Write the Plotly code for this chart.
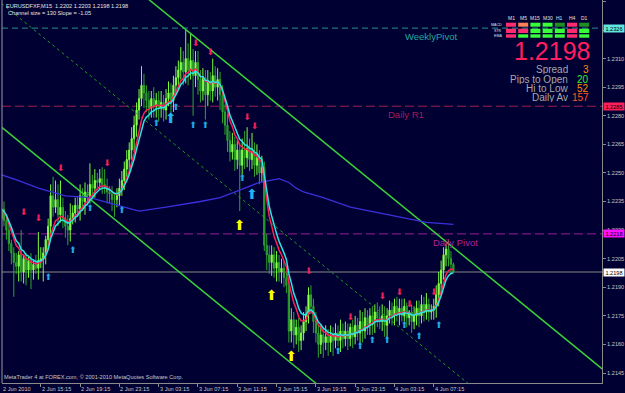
import pandas as pd
import plotly.graph_objects as go

# ---------------- data ----------------
symbol_line = "EURUSDFXF,M15  1.2202 1.2203 1.2198 1.2198"
channel_line = "Channel size = 130 Slope = -1.05"
copyright_line = "MetaTrader 4 at FOREX.com, © 2001-2010 MetaQuotes Software Corp."

bar_start = "2010-06-02 11:15"
first_open = 1.2226
close = [
    1.2231, 1.2225, 1.2220, 1.2213, 1.2208, 1.2203, 1.2201, 1.2207, 1.2198, 1.2205,
    1.2199, 1.2204, 1.2199, 1.2202, 1.2200, 1.2204, 1.2205, 1.2208, 1.2215, 1.2222,
    1.2238, 1.2232, 1.2236, 1.2228, 1.2232, 1.2226, 1.2222, 1.2220, 1.2226, 1.2229,
    1.2233, 1.2231, 1.2238, 1.2235, 1.2240, 1.2238, 1.2244, 1.2242, 1.2246, 1.2245,
    1.2247, 1.2244, 1.2243, 1.2240, 1.2239, 1.2236, 1.2236, 1.2238, 1.2242, 1.2246,
    1.2252, 1.2257, 1.2262, 1.2268, 1.2275, 1.2283, 1.2289, 1.2296, 1.2292, 1.2288,
    1.2284, 1.2289, 1.2285, 1.2288, 1.2284, 1.2287, 1.2283, 1.2289, 1.2292, 1.2288,
    1.2296, 1.2300, 1.2304, 1.2308, 1.2303, 1.2310, 1.2304, 1.2309, 1.2301, 1.2308,
    1.2299, 1.2293, 1.2300, 1.2291, 1.2298, 1.2293, 1.2301, 1.2295, 1.2299, 1.2291,
    1.2282, 1.2275, 1.2267, 1.2261, 1.2265, 1.2257, 1.2262, 1.2254, 1.2262, 1.2258,
    1.2263, 1.2257, 1.2261, 1.2254, 1.2258, 1.2250, 1.2253, 1.2212, 1.2207, 1.2203,
    1.2207, 1.2200, 1.2203, 1.2198, 1.2200, 1.2195, 1.2191, 1.2167, 1.2173, 1.2165,
    1.2169, 1.2162, 1.2166, 1.2172, 1.2176, 1.2186, 1.2180, 1.2172, 1.2166, 1.2160,
    1.2165, 1.2161, 1.2164, 1.2161, 1.2165, 1.2162, 1.2166, 1.2162, 1.2167, 1.2163,
    1.2167, 1.2163, 1.2169, 1.2164, 1.2170, 1.2166, 1.2172, 1.2167, 1.2174, 1.2170,
    1.2175, 1.2172, 1.2177, 1.2174, 1.2172, 1.2175, 1.2170, 1.2175, 1.2178, 1.2175,
    1.2180, 1.2176, 1.2179, 1.2175, 1.2180, 1.2174, 1.2177, 1.2172, 1.2175, 1.2179,
    1.2175, 1.2181, 1.2177, 1.2181, 1.2177, 1.2178, 1.2180, 1.2186, 1.2192, 1.2199,
    1.2207, 1.2210, 1.2205, 1.2202, 1.2198]
wick_up = [
    3, 4, 2, 3, 2, 3, 5, 2, 13, 2,
    3, 2, 4, 2, 5, 15, 6, 3, 2, 4,
    6, 10, 10, 8, 14, 5, 4, 6, 8, 4,
    4, 5, 6, 4, 5, 4, 11, 5, 6, 4,
    5, 6, 8, 4, 3, 4, 3, 4, 5, 5,
    4, 5, 4, 6, 5, 4, 5, 10, 6, 4,
    5, 4, 6, 4, 5, 6, 4, 5, 6, 5,
    5, 6, 5, 8, 6, 15, 8, 14, 6, 6,
    6, 5, 5, 4, 6, 5, 9, 5, 6, 4,
    5, 4, 6, 5, 6, 4, 5, 4, 6, 10,
    11, 5, 10, 5, 7, 4, 6, 3, 6, 5,
    5, 4, 6, 4, 5, 4, 3, 4, 6, 4,
    4, 5, 4, 5, 4, 4, 5, 4, 5, 4,
    5, 4, 6, 4, 5, 4, 5, 4, 6, 4,
    5, 4, 2, 4, 5, 4, 6, 5, 5, 4,
    4, 5, 4, 5, 6, 6, 5, 4, 5, 4,
    4, 5, 5, 5, 4, 2, 1, 4, 5, 4,
    4, 5, 4, 6, 3, 3, 4, 5, 6, 5,
    4, 3, 5, 4, 1]
wick_dn = [
    4, 3, 5, 4, 6, 18, 4, 8, 5, 6,
    8, 4, 10, 5, 3, 6, 4, 12, 6, 4,
    4, 5, 3, 6, 4, 5, 6, 8, 6, 3,
    5, 4, 6, 5, 7, 5, 4, 6, 5, 4,
    4, 5, 4, 6, 5, 6, 9, 4, 5, 4,
    5, 4, 6, 5, 7, 6, 5, 4, 8, 6,
    6, 5, 6, 6, 7, 5, 6, 5, 4, 10,
    6, 5, 6, 5, 7, 6, 8, 5, 21, 6,
    8, 6, 5, 13, 6, 5, 6, 5, 7, 8,
    6, 5, 6, 5, 4, 6, 5, 24, 5, 6,
    5, 6, 5, 6, 5, 6, 5, 3, 8, 6,
    7, 5, 7, 5, 6, 5, 4, 6, 6, 7,
    5, 6, 5, 4, 5, 5, 4, 6, 5, 7,
    5, 8, 4, 7, 5, 8, 4, 3, 6, 5,
    4, 6, 4, 6, 4, 4, 6, 6, 4, 5,
    5, 7, 6, 5, 4, 5, 6, 7, 4, 5,
    5, 4, 6, 3, 3, 5, 4, 6, 4, 5,
    6, 4, 5, 4, 5, 4, 5, 6, 6, 5,
    5, 6, 4, 5, 0]

slow_ma_bar = [0, 7, 15, 20, 26, 36, 44, 53, 56, 67, 81, 89, 97, 105, 109, 113,
               117, 120, 123, 131, 142, 150, 158, 166, 173, 184]
slow_ma_val = [1.2249, 1.2246, 1.2242, 1.2240, 1.2238, 1.2237, 1.2234, 1.2231, 1.2230,
               1.2232, 1.2235, 1.2237, 1.2241, 1.2245, 1.2246, 1.2247, 1.2245, 1.2242,
               1.2240, 1.2237, 1.2232, 1.2230, 1.2228, 1.2226, 1.2224, 1.2223]

channel_mid_start = 1.2339
channel_slope_pips = -1.05
channel_half_pips = 65

level_names = ["WeeklyPivot", "Daily R1", "Daily Pivot"]
level_values = [1.2326, 1.2285, 1.2218]
level_label_bar = [163.5, 156.5, 175.0]
bid = 1.2198

fractal_dn_bar = [9, 15, 24, 43, 79, 85, 100, 103, 125, 142, 155, 162, 166, 176]
fractal_dn_val = [1.2229, 1.2226, 1.2252, 1.2255, 1.2318, 1.2313, 1.2279, 1.2274,
                  1.2198, 1.2174, 1.2185, 1.2187, 1.2181, 1.2187]
fractal_up_bar = [19, 29, 36, 49, 63, 71, 78, 83, 98, 137, 146, 151, 157, 164, 170, 178]
fractal_up_val = [1.2195, 1.2209, 1.2231, 1.2230, 1.2276, 1.2284, 1.2275, 1.2275,
                  1.2247, 1.2156, 1.2159, 1.2162, 1.2162, 1.2170, 1.2164, 1.2170]
big_up_bar = [69, 102]
big_up_val = [1.2278, 1.2238]
yellow_up_bar = [97, 110, 118]
yellow_up_val = [1.2222, 1.2185, 1.2153]

time_tick_bar = [0, 16, 32, 48, 64, 80, 96, 112, 128, 144, 160, 176]
time_tick_text = ["2 Jun 2010", "2 Jun 15:15", "2 Jun 19:15", "2 Jun 23:15",
                  "3 Jun 03:15", "3 Jun 07:15", "3 Jun 11:15", "3 Jun 15:15",
                  "3 Jun 19:15", "3 Jun 23:15", "4 Jun 03:15", "4 Jun 07:15"]
price_ticks = [1.2145, 1.2160, 1.2175, 1.2190, 1.2205, 1.2220, 1.2235, 1.2250,
               1.2265, 1.2280, 1.2295, 1.2310, 1.2325, 1.2340]

tf_names = ["M1", "M5", "M15", "M30", "H1", "H4", "D1"]
sig_names = ["MACD", "STR", "EMA"]
sig_macd = ["dn", "wdn", "up", "up", "wup", "dn", "wup"]
sig_str = ["dn", "dn", "up", "up", "up", "dn", "up"]
sig_ema = ["dn", "up", "up", "up", "up", "dn", "up"]
panel_price = "1.2198"
stat_names = ["Spread", "Pips to Open", "Hi to Low", "Daily Av"]
stat_values = ["3", "20", "52", "157"]

# ---------------- styling / geometry ----------------
BG = "#000032"
FONT = "Liberation Sans"
W, H = 625, 393
ML, MR, MT, MB = 2, 23, 0, 10
PW, PH = W - ML - MR, H - MT - MB
X_LO, X_HI = 0.2, 244.5


def fx(px):
    return (px - ML) / PW


def fy(py):
    return 1 - (py - MT) / PH


t0 = pd.Timestamp(bar_start)


def bt(i):
    return t0 + pd.Timedelta(minutes=15 * i)


n = len(close)
times = [bt(i) for i in range(n)]
opens = [first_open] + close[:-1]
high = [max(o, c) + u / 1e4 for o, c, u in zip(opens, close, wick_up)]
low = [min(o, c) - d / 1e4 for o, c, d in zip(opens, close, wick_dn)]


def ema(vals, span):
    a = 2 / (span + 1)
    out = [vals[0]]
    for v in vals[1:]:
        out.append(out[-1] + a * (v - out[-1]))
    return out


fast_red = ema(close, 7)
fast_cyan = ema(close, 9)

fig = go.Figure()

# channel
ch_bars = [-2, 250]
mid = [channel_mid_start + channel_slope_pips * b / 1e4 for b in ch_bars]
fig.add_trace(go.Scatter(x=[bt(b) for b in ch_bars], y=mid, mode="lines",
                         line=dict(color="#1f9a1f", width=1, dash="dot"), hoverinfo="skip"))
for sgn in (1, -1):
    fig.add_trace(go.Scatter(x=[bt(b) for b in ch_bars],
                             y=[m + sgn * channel_half_pips / 1e4 for m in mid], mode="lines",
                             line=dict(color="#3ad23a", width=1.5), hoverinfo="skip"))

# slow MA
fig.add_trace(go.Scatter(x=[bt(b) for b in slow_ma_bar], y=slow_ma_val, mode="lines",
                         line=dict(color="#3b30dc", width=1.3), hoverinfo="skip"))

# candles
fig.add_trace(go.Candlestick(
    x=times, open=opens, high=high, low=low, close=close,
    increasing=dict(line=dict(color="#7CFC3C", width=1), fillcolor="#B8FF88"),
    decreasing=dict(line=dict(color="#2FA52F", width=1), fillcolor="#1E7F1E"),
    whiskerwidth=0, hoverinfo="skip"))

# fast MAs
fig.add_trace(go.Scatter(x=times, y=fast_red, mode="lines",
                         line=dict(color="#FF1F55", width=1.5), hoverinfo="skip"))
fig.add_trace(go.Scatter(x=times, y=fast_cyan, mode="lines",
                         line=dict(color="#28E6E6", width=1.5), hoverinfo="skip"))


# arrows
def arrows(bars, vals, glyph, size, color):
    fig.add_trace(go.Scatter(x=[bt(b) for b in bars], y=vals, mode="text",
                             text=[glyph] * len(bars), textposition="middle center",
                             textfont=dict(size=size, color=color, family="DejaVu Sans"),
                             hoverinfo="skip"))


arrows(fractal_dn_bar, fractal_dn_val, "⬇", 9, "#F0205A")
arrows(fractal_up_bar, fractal_up_val, "⬆", 9, "#20A8E0")
arrows(big_up_bar, big_up_val, "⬆", 14, "#22B4F0")
arrows(yellow_up_bar, yellow_up_val, "⬆", 14, "#FFFF00")

shapes = []
annotations = []

# levels
level_line_colors = ["#2A9090", "#A01E50", "#9A1E9A"]
level_text_colors = ["#22A8A0", "#A8185A", "#B0209E"]
level_box_colors = ["#60E8E0", "#FF1E5A", "#FF10FF"]
level_dash = ["6px,4px", "9px,4px", "9px,4px"]
for name, val, lb, lc, tc, bc, ds in zip(level_names, level_values, level_label_bar,
                                         level_line_colors, level_text_colors,
                                         level_box_colors, level_dash):
    shapes.append(dict(type="line", xref="paper", x0=0, x1=1, yref="y", y0=val, y1=val,
                       line=dict(color=lc, width=1, dash=ds), layer="below"))
    annotations.append(dict(x=bt(lb), y=val, xref="x", yref="y", text=name,
                            showarrow=False, xanchor="left", yanchor="top", yshift=-1,
                            font=dict(family=FONT, size=9.5, color=tc)))
    annotations.append(dict(x=1, y=val, xref="paper", yref="y", text=f"{val:.4f}",
                            showarrow=False, xanchor="left", yanchor="middle", xshift=1,
                            bgcolor=bc, width=20, height=7, borderpad=0,
                            font=dict(family=FONT, size=5.6, color="#000000")))

shapes.append(dict(type="line", xref="paper", x0=0, x1=1, yref="y", y0=bid, y1=bid,
                   line=dict(color="#8a8a8a", width=1), layer="below"))
annotations.append(dict(x=1, y=bid, xref="paper", yref="y", text=f"{bid:.4f}",
                        showarrow=False, xanchor="left", yanchor="middle", xshift=1,
                        bgcolor="#FFFFFF", width=20, height=7, borderpad=0,
                        font=dict(family=FONT, size=5.6, color="#000000")))

# price tick labels hidden behind a level box stay blank
tick_text = []
for v in price_ticks:
    near = any(abs(v - h) < 0.00012 for h in level_values)
    tick_text.append("" if near else f"{v:.4f}")

# left frame
shapes.append(dict(type="line", xref="paper", yref="paper", x0=0, x1=0, y0=0, y1=1,
                   line=dict(color="#9a9a9a", width=1)))

# time labels
for b, txt in zip(time_tick_bar, time_tick_text):
    annotations.append(dict(x=bt(max(b, X_LO + 0.05)), y=0, xref="x", yref="paper", text=txt,
                            showarrow=False, xanchor="left", yanchor="top", xshift=-1,
                            yshift=-1, font=dict(family=FONT, size=5.6, color="#C8C8C8")))

# header texts
annotations.append(dict(x=fx(4), y=fy(6), xref="paper", yref="paper", text=symbol_line,
                        showarrow=False, xanchor="left", yanchor="middle",
                        font=dict(family=FONT, size=5.6, color="#E6E6E6")))
annotations.append(dict(x=fx(6), y=fy(13), xref="paper", yref="paper", text=channel_line,
                        showarrow=False, xanchor="left", yanchor="middle",
                        font=dict(family=FONT, size=5.6, color="#E6E6E6")))
annotations.append(dict(x=fx(2), y=fy(377), xref="paper", yref="paper", text=copyright_line,
                        showarrow=False, xanchor="left", yanchor="middle",
                        font=dict(family=FONT, size=5.6, color="#C8C8C8")))

# signal panel
sig_color = {"dn": "#FF2D6F", "wdn": "#FF7F55", "up": "#38FF38", "wup": "#1F8F1F"}
row_top = [22.7, 28.7, 34.3]
row_bot = [26.7, 33.0, 37.7]
for j, tf in enumerate(tf_names):
    cx0 = 506 + 12.2 * j
    annotations.append(dict(x=fx(cx0 + 5), y=fy(18), xref="paper", yref="paper", text=tf,
                            showarrow=False, xanchor="center", yanchor="middle",
                            font=dict(family=FONT, size=5, color="#E0E0E0")))
    for r, sig in enumerate([sig_macd, sig_str, sig_ema]):
        shapes.append(dict(type="rect", xref="paper", yref="paper",
                           x0=fx(cx0), x1=fx(cx0 + 10), y0=fy(row_bot[r]), y1=fy(row_top[r]),
                           fillcolor=sig_color[sig[j]], line=dict(width=0)))
for r, nm in enumerate(sig_names):
    annotations.append(dict(x=fx(504), y=fy((row_top[r] + row_bot[r]) / 2), xref="paper",
                            yref="paper", text=nm, showarrow=False, xanchor="right",
                            yanchor="middle", font=dict(family=FONT, size=3.6, color="#E0E0E0")))

annotations.append(dict(x=fx(591), y=fy(50.5), xref="paper", yref="paper", text=panel_price,
                        showarrow=False, xanchor="right", yanchor="middle", height=22,
                        borderpad=0, font=dict(family=FONT, size=25, color="#FF1F5F")))
stat_colors = ["#FF8C00", "#33EE33", "#FF8C00", "#FF5A1E"]
for k, (nm, vv, cc) in enumerate(zip(stat_names, stat_values, stat_colors)):
    yy = fy(69.8 + 9.2 * k)
    annotations.append(dict(x=fx(569), y=yy, xref="paper", yref="paper", text=nm,
                            showarrow=False, xanchor="right", yanchor="middle", height=9,
                            borderpad=0, font=dict(family=FONT, size=10, color="#A8A8A8")))
    annotations.append(dict(x=fx(590), y=yy, xref="paper", yref="paper", text=vv,
                            showarrow=False, xanchor="right", yanchor="middle", height=9,
                            borderpad=0, font=dict(family=FONT, size=10, color=cc)))

fig.update_layout(
    width=W, height=H, margin=dict(l=ML, r=MR, t=MT, b=MB),
    paper_bgcolor=BG, plot_bgcolor=BG, showlegend=False,
    shapes=shapes, annotations=annotations,
    xaxis=dict(type="date", range=[bt(X_LO), bt(X_HI)], showgrid=False, zeroline=False,
               showline=True, linecolor="#8a8a8a", linewidth=1, ticks="outside", ticklen=3,
               tickcolor="#8a8a8a", tickvals=[bt(b) for b in time_tick_bar],
               showticklabels=False, rangeslider=dict(visible=False), fixedrange=True),
    yaxis=dict(side="right", range=[1.213975, 1.234075], tickvals=price_ticks,
               ticktext=tick_text, showgrid=False, zeroline=False,
               showline=True, linecolor="#8a8a8a", linewidth=1, ticks="outside", ticklen=3,
               tickcolor="#8a8a8a", tickfont=dict(family=FONT, size=5.6, color="#C8C8C8"),
               fixedrange=True),
)

fig.write_html("out.html")
